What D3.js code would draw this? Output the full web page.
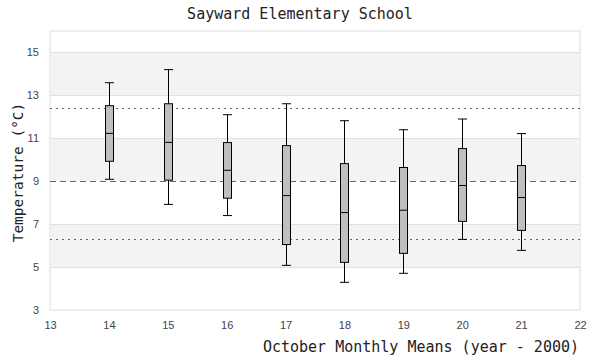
<!DOCTYPE html>
<html><head><meta charset="utf-8">
<script src="https://cdn.jsdelivr.net/npm/d3@7"></script>
<style>body{margin:0;background:#fff}</style>
</head><body>
<svg id="c" width="600" height="360"></svg>
<script>
const years = [14, 15, 16, 17, 18, 19, 20, 21];
const whiskerLow = [9.09, 7.92, 7.40, 5.08, 4.29, 4.71, 6.29, 5.78];
const q1 = [9.93, 9.05, 8.21, 6.05, 5.22, 5.64, 7.13, 6.71];
const median = [11.23, 10.81, 9.51, 8.33, 7.54, 7.65, 8.80, 8.24];
const q3 = [12.52, 12.61, 10.80, 10.66, 9.82, 9.64, 10.52, 9.73];
const whiskerHigh = [13.59, 14.20, 12.10, 12.61, 11.82, 11.40, 11.90, 11.22];
const xTicks = [13, 14, 15, 16, 17, 18, 19, 20, 21, 22];
const yTicks = [3, 5, 7, 9, 11, 13, 15];
const bands = [[5, 7], [9, 11], [13, 15]];
const meanLine = 9.0, upperLine = 12.4, lowerLine = 6.3;

const svg = d3.select("#c");
const L = 50, R = 580, T = 31, B = 310;
const x = d3.scaleLinear().domain([13, 22]).range([L, R]);
const y = d3.scaleLinear().domain([3, 16]).range([B, T]);

svg.append("rect").attr("x", L).attr("y", T).attr("width", R - L).attr("height", B - T)
  .attr("fill", "#fff").attr("stroke", "#dcdcdc");
svg.selectAll(".band").data(bands).join("rect")
  .attr("x", L + 0.5).attr("width", R - L - 1)
  .attr("y", d => y(d[1])).attr("height", d => y(d[0]) - y(d[1]))
  .attr("fill", "#f3f3f3");
svg.selectAll(".grid").data([5, 7, 11, 13, 15]).join("line")
  .attr("x1", L).attr("x2", R).attr("y1", d => Math.round(y(d)) + 0.5).attr("y2", d => Math.round(y(d)) + 0.5)
  .attr("stroke", "#e0e0e0").attr("stroke-width", 1);

function refLine(v, dash) {
  svg.append("line").attr("x1", L).attr("x2", R)
    .attr("y1", Math.round(y(v)) + 0.5).attr("y2", Math.round(y(v)) + 0.5)
    .attr("stroke", "#666").attr("stroke-width", 1).attr("stroke-dasharray", dash);
}
refLine(meanLine, "6,4");
refLine(upperLine, "2,4");
refLine(lowerLine, "2,4");

// axes
const yAxis = d3.axisLeft(y).tickValues(yTicks).tickSize(0).tickPadding(11);
const gy = svg.append("g").attr("transform", `translate(${L},0)`).call(yAxis);
const xAxis = d3.axisBottom(x).tickValues(xTicks).tickSize(0).tickPadding(11);
const gx = svg.append("g").attr("transform", `translate(0,${B})`).call(xAxis);
[gy, gx].forEach(g => {
  g.select(".domain").remove();
  g.selectAll("text").attr("fill", "#444").style("font-family", "Liberation Sans, Arial, sans-serif").style("font-size", "11px");
});

// boxes
const bw = 8, cw = 8;
const data = years.map((yr, i) => ({yr, lo: whiskerLow[i], q1: q1[i], med: median[i], q3: q3[i], hi: whiskerHigh[i]}));
const g = svg.append("g").attr("stroke", "#000").attr("stroke-width", 1);
data.forEach(d => {
  const cx = Math.round(x(d.yr)) + 0.5;
  g.append("line").attr("x1", cx).attr("x2", cx).attr("y1", y(d.hi)).attr("y2", y(d.lo));
  g.append("line").attr("x1", cx - cw / 2 - 0.5).attr("x2", cx + cw / 2 + 0.5).attr("y1", y(d.hi)).attr("y2", y(d.hi));
  g.append("line").attr("x1", cx - cw / 2 - 0.5).attr("x2", cx + cw / 2 + 0.5).attr("y1", y(d.lo)).attr("y2", y(d.lo));
  g.append("rect").attr("x", cx - bw / 2).attr("width", bw)
    .attr("y", y(d.q3)).attr("height", y(d.q1) - y(d.q3)).attr("fill", "#bfbfbf");
  g.append("line").attr("x1", cx - bw / 2).attr("x2", cx + bw / 2).attr("y1", y(d.med)).attr("y2", y(d.med));
});

const mono = "DejaVu Sans Mono, monospace";
svg.append("text").attr("x", 300).attr("y", 19).attr("text-anchor", "middle")
  .style("font-family", mono).style("font-size", "15px").attr("fill", "#222")
  .text("Sayward Elementary School");
svg.append("text").attr("transform", `translate(23,${(T + B) / 2 + 2}) rotate(-90)`).attr("text-anchor", "middle")
  .style("font-family", mono).style("font-size", "14.5px").attr("fill", "#222")
  .text("Temperature (°C)");
svg.append("text").attr("x", 579).attr("y", 352).attr("text-anchor", "end")
  .style("font-family", mono).style("font-size", "15px").attr("fill", "#222")
  .text("October Monthly Means (year - 2000)");
</script>
</body></html>
